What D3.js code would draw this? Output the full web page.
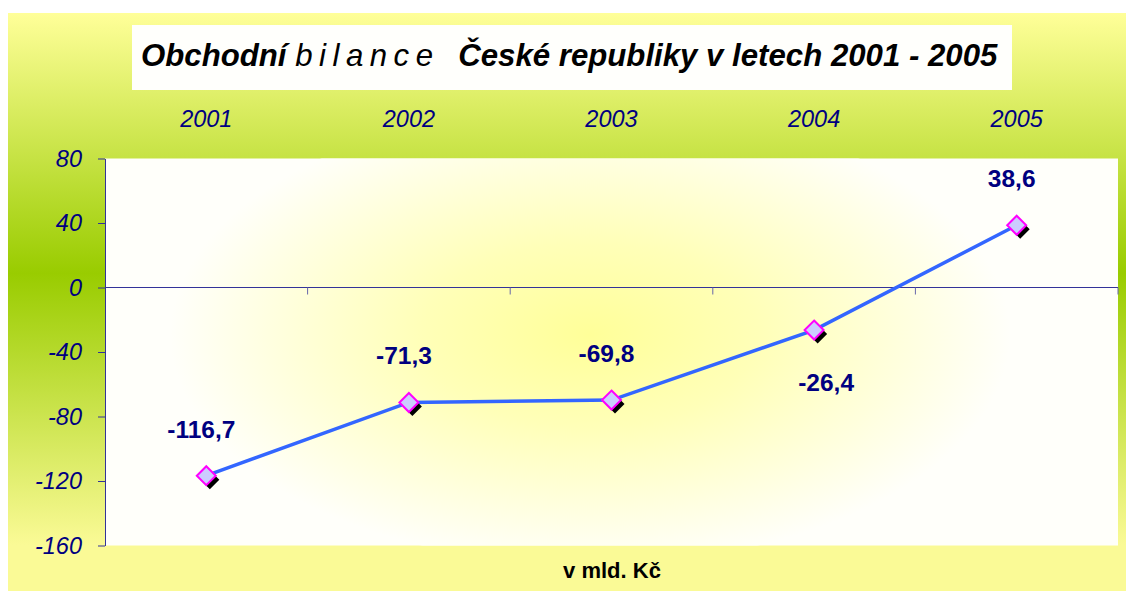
<!DOCTYPE html>
<html>
<head>
<meta charset="utf-8">
<script src="https://cdn.jsdelivr.net/npm/d3@7"></script>
<style>
  body { margin: 0; background: #fff; }
  svg { display: block; font-family: "Liberation Sans", Arial, sans-serif; }
</style>
</head>
<body>
<svg id="chart" width="1126" height="591"></svg>
<script>
const years = ['2001', '2002', '2003', '2004', '2005'];
const balance = [-116.7, -71.3, -69.8, -26.4, 38.6];
// where the value label sits relative to its point
const labelSide = ['above', 'above', 'above', 'below', 'above'];
const yTicks = [80, 40, 0, -40, -80, -120, -160];

const svg = d3.select('#chart');
const plot = { left: 105, right: 1118, top: 158.5, bottom: 545.5 };

const defs = svg.append('defs');

// outer area: yellow -> green -> yellow
const outerGrad = defs.append('linearGradient')
  .attr('id', 'outerGrad')
  .attr('gradientUnits', 'userSpaceOnUse')
  .attr('x1', 0).attr('y1', 13).attr('x2', 0).attr('y2', 591);
outerGrad.append('stop').attr('offset', 0).attr('stop-color', '#ffff99');
outerGrad.append('stop').attr('offset', 0.45).attr('stop-color', '#99cc00');
outerGrad.append('stop').attr('offset', 0.92).attr('stop-color', '#fafa96');
outerGrad.append('stop').attr('offset', 1).attr('stop-color', '#fafa96');

// plot area: cream with yellow glow in the middle
const plotGrad = defs.append('radialGradient')
  .attr('id', 'plotGrad')
  .attr('cx', 0.5).attr('cy', 0.5).attr('r', 0.5);
plotGrad.append('stop').attr('offset', 0).attr('stop-color', '#ffff99');
plotGrad.append('stop').attr('offset', 0.4).attr('stop-color', '#ffffb8');
plotGrad.append('stop').attr('offset', 1).attr('stop-color', '#fffffa');

defs.append('clipPath').attr('id', 'plotClip')
  .append('rect')
  .attr('x', plot.left).attr('y', plot.top)
  .attr('width', plot.right - plot.left).attr('height', plot.bottom - plot.top);

svg.append('rect')
  .attr('x', 8).attr('y', 13)
  .attr('width', 1118).attr('height', 578)
  .attr('fill', 'url(#outerGrad)');

svg.append('rect')
  .attr('x', plot.left).attr('y', plot.top)
  .attr('width', plot.right - plot.left).attr('height', plot.bottom - plot.top)
  .attr('fill', '#fffffa');

svg.append('ellipse')
  .attr('clip-path', 'url(#plotClip)')
  .attr('cx', 590).attr('cy', 335)
  .attr('rx', 420).attr('ry', 230)
  .attr('fill', 'url(#plotGrad)');

// title box
svg.append('rect')
  .attr('x', 132).attr('y', 25)
  .attr('width', 880).attr('height', 65)
  .attr('fill', '#fffffc');

const title = svg.append('text')
  .attr('x', 141).attr('y', 66)
  .attr('font-size', 31.2)
  .attr('font-style', 'italic')
  .attr('fill', '#000');
title.append('tspan').attr('font-weight', 'bold').text('Obchodní ');
title.append('tspan').attr('letter-spacing', 6.5).text('bilance');
title.append('tspan').attr('font-weight', 'bold').attr('dx', 10)
  .text(' České republiky v letech 2001 - 2005');

const x = d3.scaleBand()
  .domain(years)
  .range([plot.left, plot.right])
  .padding(0);

const y = d3.scaleLinear()
  .domain([-160, 80])
  .range([plot.bottom, plot.top]);

const cx = (d) => x(d) + x.bandwidth() / 2;

// y axis
const yAxis = svg.append('g')
  .attr('transform', `translate(${plot.left},0)`)
  .call(d3.axisLeft(y).tickValues(yTicks).tickSize(7).tickSizeOuter(0)
    .tickFormat((d) => String(d)));
yAxis.select('.domain').attr('stroke', '#333399');
yAxis.selectAll('.tick line').attr('stroke', '#333399');
yAxis.selectAll('.tick text')
  .attr('x', -23)
  .attr('dy', '0.32em')
  .attr('font-size', 23.5)
  .attr('font-style', 'italic')
  .attr('font-family', '"Liberation Sans", Arial, sans-serif')
  .attr('fill', '#000080');

// category line at zero with ticks at band edges
svg.append('line')
  .attr('x1', plot.left).attr('x2', plot.right)
  .attr('y1', y(0)).attr('y2', y(0))
  .attr('stroke', '#333399').attr('stroke-width', 1.2);

const edges = years.map((d) => x(d)).concat([plot.right]);
svg.append('g').selectAll('line')
  .data(edges.slice(1))
  .join('line')
  .attr('x1', (d) => d).attr('x2', (d) => d)
  .attr('y1', y(0)).attr('y2', y(0) + 7)
  .attr('stroke', '#6666aa');

// category labels across the top
svg.append('g').selectAll('text')
  .data(years)
  .join('text')
  .attr('x', (d) => cx(d))
  .attr('y', 127)
  .attr('text-anchor', 'middle')
  .attr('font-size', 23.5)
  .attr('font-style', 'italic')
  .attr('fill', '#000080')
  .text((d) => d);

// series line
const line = d3.line()
  .x((d, i) => cx(years[i]))
  .y((d) => y(d));

svg.append('path')
  .datum(balance)
  .attr('d', line)
  .attr('fill', 'none')
  .attr('stroke', '#3366ff')
  .attr('stroke-width', 3.5);

// diamond markers with a black drop shadow
const diamond = 'M0,-9.5L9.5,0L0,9.5L-9.5,0Z';
const markers = svg.append('g').selectAll('g')
  .data(balance)
  .join('g')
  .attr('transform', (d, i) => `translate(${cx(years[i])},${y(d)})`);
markers.append('path')
  .attr('d', diamond)
  .attr('transform', 'translate(3.5,4)')
  .attr('fill', '#000');
markers.append('path')
  .attr('d', diamond)
  .attr('fill', '#ccccff')
  .attr('stroke', '#ff00ff')
  .attr('stroke-width', 2);

// value labels, decimal comma and plain hyphen
const fmt = (v) => d3.format('.1f')(v).replace('.', ',').replace('\u2212', '-');
svg.append('g').selectAll('text')
  .data(balance)
  .join('text')
  .attr('x', (d, i) => cx(years[i]) + (labelSide[i] === 'below' ? 12 : -5))
  .attr('y', (d, i) => y(d) + (labelSide[i] === 'below' ? 61 : -38))
  .attr('text-anchor', 'middle')
  .attr('font-size', 24.5)
  .attr('font-weight', 'bold')
  .attr('fill', '#000080')
  .text((d) => fmt(d));

// axis title
svg.append('text')
  .attr('x', 612).attr('y', 578)
  .attr('text-anchor', 'middle')
  .attr('font-size', 22)
  .attr('font-weight', 'bold')
  .attr('fill', '#000')
  .text('v mld. Kč');
</script>
</body>
</html>
